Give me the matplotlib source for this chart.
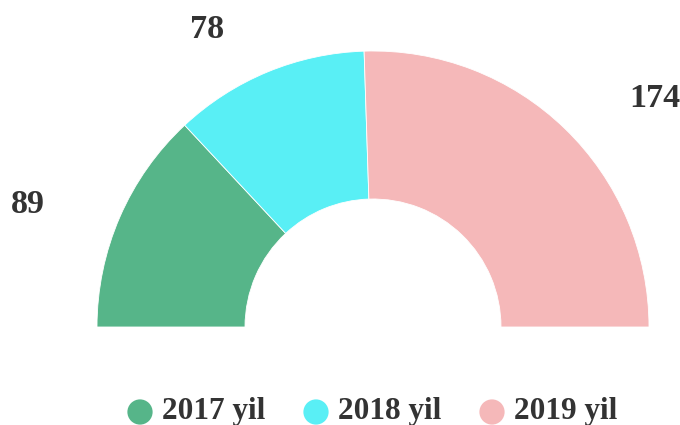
import matplotlib.pyplot as plt

# data
years = ['2017 yil', '2018 yil', '2019 yil']
values = [89, 78, 174]
colors = ['#56b589', '#59eff5', '#f5b8b9']

# layout (pixels, centre of the half-donut at origin, y up)
CX, CY = 373, 327
W, H = 680, 425
R_OUT, R_IN = 276, 128
label_xy = [(-345, 114), (-166, 289), (282, 220)]   # label centre x, baseline y
LEGEND_X0, LEGEND_STEP, LEGEND_Y = 140, 176, 412

fig = plt.figure(figsize=(W / 100, H / 100), dpi=100)
ax = fig.add_axes([0, 0, 1, 1])

# half donut: hidden slice fills the lower half
ax.pie(values + [sum(values)], startangle=180, counterclock=False,
       radius=R_OUT, colors=colors + ['none'],
       wedgeprops=dict(width=R_OUT - R_IN, edgecolor='white', linewidth=0.6))
ax.patches[-1].set_edgecolor('none')

for v, (x, y) in zip(values, label_xy):
    ax.text(x, y, str(v), ha='center', va='baseline', fontsize=24.5,
            fontweight='bold', family='Liberation Serif', color='#333333')

# legend drawn by hand
for i, (name, c) in enumerate(zip(years, colors)):
    x = LEGEND_X0 + i * LEGEND_STEP
    ax.scatter([x - CX], [CY - LEGEND_Y], s=330, color=c, edgecolors='none')
    ax.text(x - CX + 22, CY - 419, name, ha='left', va='baseline', fontsize=22.5,
            fontweight='bold', family='Liberation Serif', color='#333333')

ax.set_xlim(-CX, W - CX)
ax.set_ylim(CY - H, CY)
ax.set_aspect('equal')
ax.axis('off')

fig.savefig('out.png', dpi=100, facecolor='white')
